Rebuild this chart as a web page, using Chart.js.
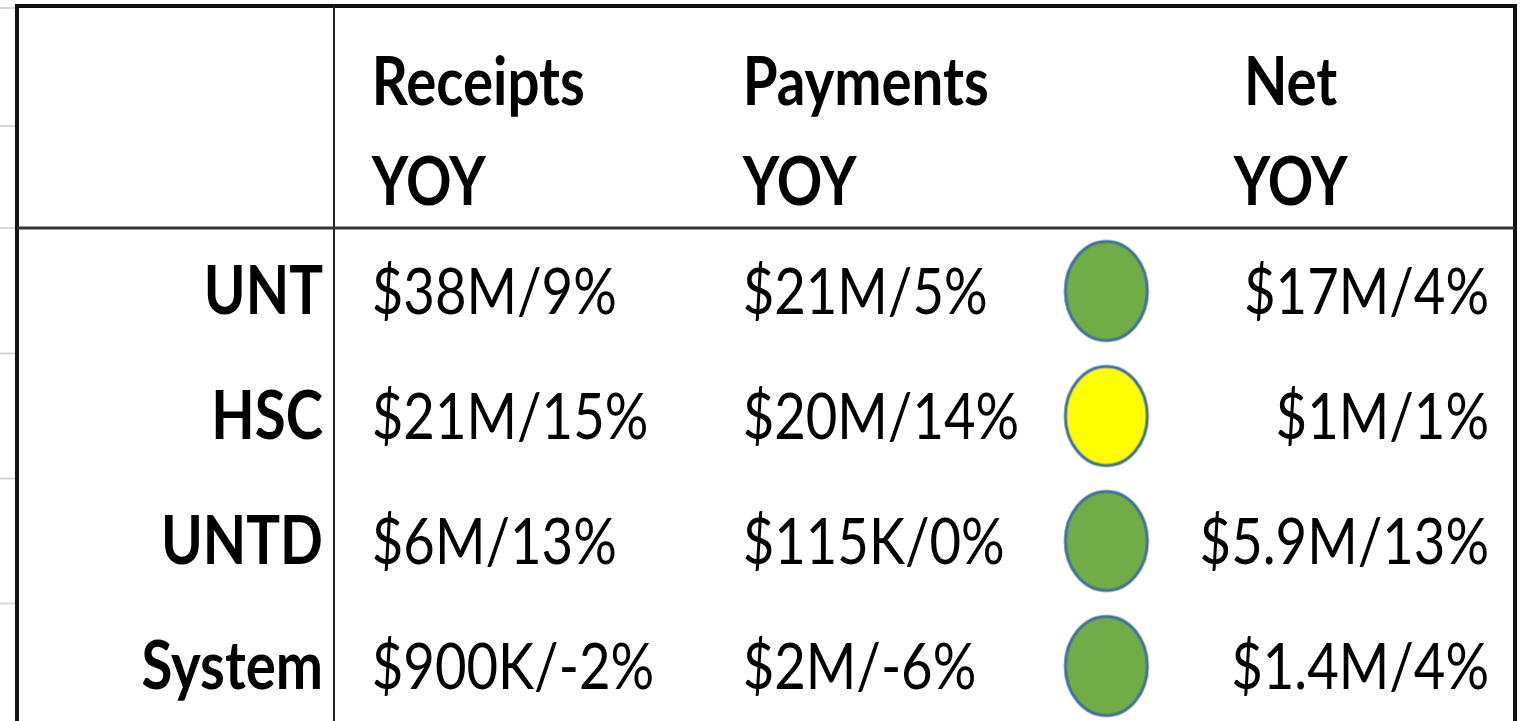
<!DOCTYPE html>
<html>
<head>
<meta charset="utf-8">
<title>YOY summary</title>
<script src="https://cdn.jsdelivr.net/npm/chart.js@4.4.1/dist/chart.umd.min.js"></script>
<style>
    html, body { margin: 0; padding: 0; background: #fff; }
    #wrap { width: 1524px; height: 721px; }
</style>
</head>
<body>
<div id="wrap"><canvas id="mycanvas"></canvas></div>
<script>
// table contents
var rowLabels = ['UNT', 'HSC', 'UNTD', 'System'];
var receiptsYoy = ['$38M/9%', '$21M/15%', '$6M/13%', '$900K/-2%'];
var paymentsYoy = ['$21M/5%', '$20M/14%', '$115K/0%', '$2M/-6%'];
var netYoy = ['$17M/4%', '$1M/1%', '$5.9M/13%', '$1.4M/4%'];
var netStatus = ['good', 'watch', 'good', 'good'];
var headers = [['Receipts', 'YOY'], ['Payments', 'YOY'], ['Net', 'YOY']];

// layout: x positions are in % of the table body (hidden x scale 0..100)
var colX = { receipts: 3.2, payments: 34.6, dot: 65.4, net: 97.8, netHead: 81.0 };
var FONT = 'Lato, "Open Sans", sans-serif';
var statusColors = { good: '#70AD47', watch: '#FFFF00' };

function makeDot(color) {
    var c = document.createElement('canvas');
    c.width = 88;
    c.height = 105;
    var g = c.getContext('2d');
    g.beginPath();
    g.ellipse(44, 52.5, 41, 49.5, 0, 0, Math.PI * 2);
    g.fillStyle = color;
    g.fill();
    g.lineWidth = 3;
    g.strokeStyle = '#41719C';
    g.stroke();
    return c;
}
var dots = {};
for (var k in statusColors) {
    dots[k] = makeDot(statusColors[k]);
}

function textWidth(ctx, str, bold, size) {
    ctx.save();
    ctx.font = (bold ? 'bold ' : '') + size + 'px ' + FONT;
    var w = ctx.measureText(str).width;
    ctx.restore();
    return w;
}

// text is squeezed sideways like the original picture
function drawText(ctx, str, x, y, align, bold, size, sx) {
    ctx.save();
    ctx.font = (bold ? 'bold ' : '') + size + 'px ' + FONT;
    var w = ctx.measureText(str).width * sx;
    var left = align === 'left' ? x : (align === 'right' ? x - w : x - w / 2);
    ctx.translate(left, y);
    ctx.scale(sx, 1);
    ctx.textAlign = 'left';
    ctx.textBaseline = 'alphabetic';
    ctx.fillStyle = '#000';
    ctx.fillText(str, 0, 0);
    ctx.restore();
}

var tablePlugin = {
    id: 'tablePlugin',
    afterDraw: function (chart) {
        var ctx = chart.ctx;
        var xs = chart.scales.x;
        var ys = chart.scales.y;
        var area = chart.chartArea;
        var frameLeft = 17, frameTop = 6;
        var boldSize = 67, regSize = 64;
        var boldSx = 213 / textWidth(ctx, 'Receipts', true, boldSize);
        var regSx = 245 / textWidth(ctx, '$38M/9%', false, regSize);

        ctx.save();
        // sheet gridlines in the left margin
        ctx.strokeStyle = '#d6d6d6';
        ctx.lineWidth = 2;
        var marks = [8, 126, area.top];
        for (var i = 0; i < rowLabels.length - 1; i++) {
            marks.push(ys.getPixelForValue(i + 0.5));
        }
        marks.forEach(function (y) {
            ctx.beginPath();
            ctx.moveTo(0, y);
            ctx.lineTo(frameLeft, y);
            ctx.stroke();
        });

        // outer frame
        ctx.strokeStyle = '#111';
        ctx.lineWidth = 4;
        ctx.beginPath();
        ctx.moveTo(frameLeft, chart.height);
        ctx.lineTo(frameLeft, frameTop);
        ctx.lineTo(area.right, frameTop);
        ctx.lineTo(area.right, chart.height);
        ctx.stroke();

        // label column divider
        ctx.strokeStyle = '#222';
        ctx.lineWidth = 2;
        ctx.beginPath();
        ctx.moveTo(area.left, frameTop);
        ctx.lineTo(area.left, chart.height);
        ctx.stroke();

        // header rule
        ctx.strokeStyle = '#333';
        ctx.lineWidth = 3;
        ctx.beginPath();
        ctx.moveTo(frameLeft, area.top);
        ctx.lineTo(area.right, area.top);
        ctx.stroke();
        ctx.restore();

        // headers
        var headX = [xs.getPixelForValue(colX.receipts), xs.getPixelForValue(colX.payments), xs.getPixelForValue(colX.netHead)];
        var headAlign = ['left', 'left', 'center'];
        headers.forEach(function (h, c) {
            drawText(ctx, h[0], headX[c], 105, headAlign[c], true, boldSize, boldSx);
            drawText(ctx, h[1], headX[c], 205, headAlign[c], true, boldSize, boldSx);
        });

        // body rows
        rowLabels.forEach(function (label, r) {
            var base = ys.getPixelForValue(r) + 23;
            drawText(ctx, label, area.left - 11, base, 'right', true, boldSize, boldSx);
            drawText(ctx, receiptsYoy[r], xs.getPixelForValue(colX.receipts), base, 'left', false, regSize, regSx);
            drawText(ctx, paymentsYoy[r], xs.getPixelForValue(colX.payments), base, 'left', false, regSize, regSx);
            drawText(ctx, netYoy[r], xs.getPixelForValue(colX.net), base, 'right', false, regSize, regSx);
        });
    }
};

var ctx = document.getElementById('mycanvas');

var table = new Chart(ctx, {
    type: 'scatter',
    data: {
        datasets: [
            {
                label: 'Net status',
                data: netStatus.map(function (s, i) { return { x: colX.dot, y: i }; }),
                pointStyle: function (c) { return dots[netStatus[c.dataIndex]]; },
                pointRadius: 40,
                pointHoverRadius: 40
            }
        ]
    },
    options: {
        responsive: true,
        maintainAspectRatio: false,
        animation: false,
        events: [],
        layout: { autoPadding: false, padding: { left: 334, right: 9, top: 228, bottom: 0 } },
        plugins: {
            legend: { display: false },
            tooltip: { enabled: false }
        },
        scales: {
            x: { type: 'linear', min: 0, max: 100, display: false },
            y: { type: 'linear', min: -0.504, max: 3.44, reverse: true, display: false }
        }
    },
    plugins: [tablePlugin]
});
</script>
</body>
</html>
